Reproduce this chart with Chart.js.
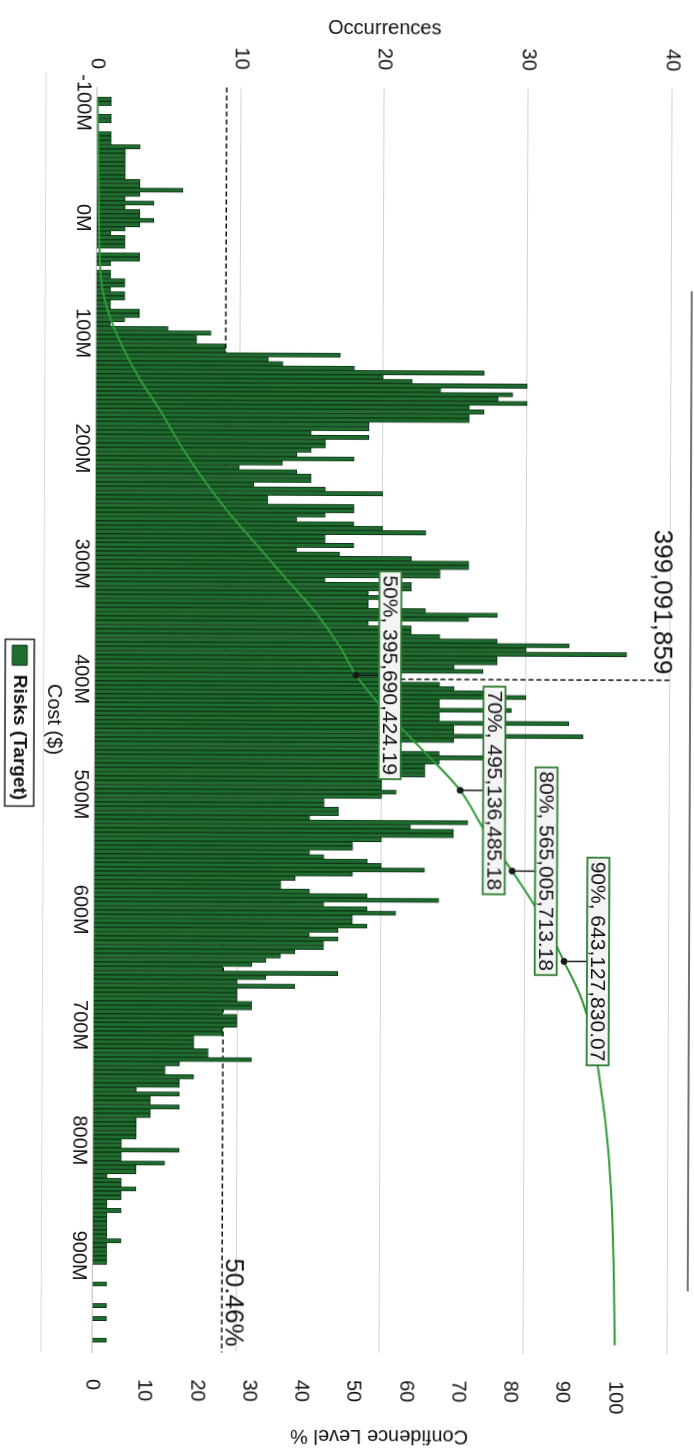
<!DOCTYPE html>
<html>
<head>
<meta charset="utf-8">
<script src="https://cdn.jsdelivr.net/npm/chart.js@4.4.1/dist/chart.umd.min.js"></script>
<style>
  html, body { margin: 0; padding: 0; background: #fff; }
  body { width: 694px; height: 1448px; overflow: hidden; position: relative; }
  #page { position: absolute; left: 0; top: 0; width: 694px; height: 1448px;
          transform: rotate(0.23deg); transform-origin: 347px 724px; }
  /* the chart is laid out landscape and turned a quarter turn clockwise */
  #frame { position: absolute; left: 0; top: 0; width: 1448px; height: 694px;
           transform-origin: 0 0; transform: translateX(694px) rotate(90deg); }
  canvas { display: block; }
</style>
</head>
<body>
<div id="page"><div id="frame"><canvas id="c" width="1448" height="694"></canvas></div></div>
<script>
// ---- histogram bins (cost in $M) ----
const binStartM = -103;     // centre of the first bin
const binWidthM = 3.75;     // width of each bin
const occurrences = [
  1,1,0,0,1,1,0,0,1,1,
  1,3,2,2,2,2,2,2,2,3,
  3,6,3,2,4,2,3,3,4,3,
  2,1,2,2,2,0,3,3,1,0,
  1,1,2,2,1,2,2,1,1,3,
  3,2,1,5,8,7,7,9,9,17,
  12,13,18,27,20,22,30,24,29,28,
  30,26,27,26,26,19,19,15,19,16,
  16,15,14,18,13,10,14,15,15,11,
  16,20,12,12,18,18,16,14,18,20,
  23,16,16,18,14,17,22,26,26,24,
  24,16,22,22,19,20,19,19,23,28,
  26,19,22,22,24,28,33,30,37,28,
  28,25,27,21,21,24,25,27,30,24,
  24,29,24,24,33,25,25,34,25,21,
  21,24,27,24,23,23,23,20,20,20,
  21,20,16,16,17,17,15,26,22,25,
  25,20,18,18,15,16,19,20,23,18,
  14,13,13,15,19,24,16,19,21,18,
  18,19,17,15,17,16,16,14,13,12,
  11,9,17,12,10,14,10,10,10,11,
  11,9,10,10,10,9,9,7,7,7,
  8,8,11,6,5,5,7,6,6,3,
  6,4,4,6,4,4,3,3,3,3,
  3,2,2,6,2,2,5,3,3,1,
  2,2,3,2,2,1,1,2,1,1,
  1,1,1,1,2,1,1,1,1,1,
  0,0,0,0,1,0,0,0,0,1,
  0,0,1,0,0,0,0,1
];

// ---- cumulative confidence curve ----
const cumCostM = [-103, -51, 1, 53, 81.5, 111, 139.6, 168, 198, 226, 255, 284.5, 313, 341.7, 371,
                  395.69, 426, 454.5, 495.14, 532.5, 565.01, 602, 643.13, 677, 721, 764, 807, 851, 903, 976];
const cumLevel  = [0.1, 0.3, 0.5, 0.9, 2.3, 5.0, 8.4, 12.5, 16.4, 20.6, 25.5, 31.2, 36.7, 42.3, 46.9,
                   50, 55.5, 61.5, 70, 75, 80, 85.3, 90, 93.5, 96, 97.5, 98.6, 99.3, 99.7, 100];

// ---- confidence markers ----
const markerLevels = [50, 70, 80, 90];
const markerCosts  = [395690424.19, 495136485.18, 565005713.18, 643127830.07];

// ---- deterministic reference ----
const detCost = 399091859;
const detLabel = '399,091,859';
const detLineLevel = 24.8;      // position of the dashed level line on the confidence axis
const detLineLabel = '50.46%';

// ---- axes ----
const costMinM = -113.5, costMaxM = 983.5;
const costTicksM = [-100, 0, 100, 200, 300, 400, 500, 600, 700, 800, 900];
const occTicks = [0, 10, 20, 30, 40];
const confTicks = [0, 10, 20, 30, 40, 50, 60, 70, 80, 90, 100];

const FONT = '"Liberation Sans", Arial, Helvetica, sans-serif';
Chart.defaults.font.family = FONT;
Chart.defaults.color = '#111';

const barData = occurrences.map((v, i) => ({ x: (binStartM + i * binWidthM) * 1e6, y: v }));
const curveData = cumCostM.map((c, i) => ({ x: c * 1e6, y: cumLevel[i] }));
const markerData = markerCosts.map((c, i) => ({ x: c, y: markerLevels[i] }));

function fmtMoney(v) {
  const [ip, fp] = v.toFixed(2).split('.');
  return ip.replace(/\B(?=(\d{3})+(?!\d))/g, ',') + '.' + fp;
}

// fixed scale sizes, no extra edge padding from tick labels
function fixSize(prop, size) {
  return s => {
    s[prop] = size;
    s.paddingTop = 0; s.paddingBottom = 0; s.paddingLeft = 0; s.paddingRight = 0;
  };
}

const refLines = {
  id: 'refLines',
  beforeDatasetsDraw(chart) {
    const { ctx, chartArea: a, scales: { x, y2 } } = chart;
    const yl = y2.getPixelForValue(detLineLevel);
    const xd = x.getPixelForValue(detCost);
    ctx.save();
    ctx.strokeStyle = '#111';
    ctx.lineWidth = 1.5;
    ctx.setLineDash([5, 3]);
    ctx.beginPath(); ctx.moveTo(a.left, yl); ctx.lineTo(a.right, yl); ctx.stroke();
    ctx.beginPath(); ctx.moveTo(xd, yl); ctx.lineTo(xd, a.top); ctx.stroke();
    ctx.restore();
  }
};

const overlay = {
  id: 'overlay',
  afterDatasetsDraw(chart) {
    const { ctx, chartArea: a, scales: { x, y2 } } = chart;
    ctx.save();
    // reference value texts
    ctx.fillStyle = '#111';
    ctx.font = '26px ' + FONT;
    ctx.textAlign = 'right';
    ctx.textBaseline = 'top';
    ctx.fillText(detLabel, x.getPixelForValue(detCost) - 6, a.top - 5);
    ctx.textBaseline = 'alphabetic';
    ctx.fillText(detLineLabel, a.right - 6, y2.getPixelForValue(detLineLevel) - 4);

    // confidence marker call-outs
    ctx.font = '21px ' + FONT;
    markerLevels.forEach((lvl, i) => {
      const px = x.getPixelForValue(markerCosts[i]);
      const py = y2.getPixelForValue(lvl);
      const text = lvl + '%, ' + fmtMoney(markerCosts[i]);
      const w = ctx.measureText(text).width + 8;
      const h = 22;
      const bottom = py - 23;
      ctx.setLineDash([]);
      ctx.strokeStyle = '#1a1a1a';
      ctx.lineWidth = 1.5;
      ctx.beginPath(); ctx.moveTo(px, py); ctx.lineTo(px, bottom); ctx.stroke();
      ctx.fillStyle = '#f4f4f4';
      ctx.fillRect(px - w / 2, bottom - h, w, h);
      ctx.strokeStyle = '#2f7d32';
      ctx.lineWidth = 1.8;
      ctx.strokeRect(px - w / 2, bottom - h, w, h);
      ctx.fillStyle = '#111';
      ctx.textAlign = 'center';
      ctx.textBaseline = 'middle';
      ctx.fillText(text, px, bottom - h / 2 + 1);
    });
    ctx.restore();
  },
  afterDraw(chart) {
    const { ctx, chartArea: a, legend } = chart;
    ctx.save();
    // legend frame
    const hb = legend.legendHitBoxes[0];
    if (hb) {
      ctx.strokeStyle = '#222';
      ctx.lineWidth = 1.5;
      ctx.strokeRect(hb.left - 6, hb.top - 5, hb.width + 12, hb.height + 10);
    }
    // page frame lines
    ctx.strokeStyle = '#dadada';
    ctx.lineWidth = 1;
    ctx.beginPath(); ctx.moveTo(a.left - 15, a.bottom + 51); ctx.lineTo(a.right, a.bottom + 51); ctx.stroke();
    ctx.strokeStyle = '#444';
    ctx.lineWidth = 1.5;
    ctx.beginPath(); ctx.moveTo(290, 4); ctx.lineTo(1290, 4); ctx.stroke();
    ctx.restore();
  }
};

new Chart(document.getElementById('c'), {
  type: 'bar',
  data: {
    datasets: [
      {
        label: 'Risks (Target)',
        data: barData,
        backgroundColor: '#1f6d2d',
        borderColor: '#10331a',
        borderWidth: 1,
        barPercentage: 1,
        categoryPercentage: 1,
        yAxisID: 'y',
        order: 2
      },
      {
        type: 'line',
        label: 'Confidence',
        data: curveData,
        borderColor: '#2f9a3a',
        borderWidth: 2,
        pointRadius: 0,
        cubicInterpolationMode: 'monotone',
        yAxisID: 'y2',
        order: 1
      },
      {
        type: 'line',
        label: 'Markers',
        data: markerData,
        showLine: false,
        pointRadius: 3,
        pointBackgroundColor: '#1a1a1a',
        pointBorderColor: '#1a1a1a',
        yAxisID: 'y2',
        order: 0
      }
    ]
  },
  options: {
    responsive: false,
    devicePixelRatio: 1,
    animation: false,
    events: [],
    layout: { padding: { top: 24.5, left: 0, right: 0, bottom: 0 } },
    plugins: {
      tooltip: { enabled: false },
      legend: {
        position: 'bottom',
        labels: {
          boxWidth: 20, boxHeight: 15, padding: 10,
          font: { size: 19, weight: 'bold' }, color: '#111',
          filter: item => item.datasetIndex === 0
        }
      }
    },
    scales: {
      x: {
        type: 'linear',
        offset: false,
        min: costMinM * 1e6, max: costMaxM * 1e6,
        afterBuildTicks: s => { s.ticks = costTicksM.map(v => ({ value: v * 1e6 })); },
        ticks: { callback: v => Math.round(v / 1e6) + 'M', font: { size: 20 }, color: '#111',
                 padding: 2, maxRotation: 0, autoSkip: false },
        grid: { offset: false, drawOnChartArea: false, drawTicks: false },
        border: { color: '#bbbbbb' },
        title: { display: true, text: 'Cost ($)', font: { size: 20 }, color: '#111', padding: { top: 0, bottom: 3 } },
        afterFit: fixSize('height', 55.5)
      },
      y: {
        position: 'left',
        min: 0, max: 40,
        afterBuildTicks: s => { s.ticks = occTicks.map(v => ({ value: v })); },
        ticks: { font: { size: 20 }, color: '#111', padding: 18 },
        grid: { color: '#d2d2d2', drawTicks: false },
        border: { display: false },
        title: { display: true, text: 'Occurrences', font: { size: 20 }, color: '#111', padding: { top: 16, bottom: 0 } },
        afterFit: fixSize('width', 88)
      },
      y2: {
        position: 'right',
        min: 0, max: 110,
        afterBuildTicks: s => { s.ticks = confTicks.map(v => ({ value: v })); },
        ticks: { font: { size: 20 }, color: '#111', padding: 27 },
        grid: { drawOnChartArea: false, drawTicks: false },
        border: { display: false },
        title: { display: true, text: 'Confidence Level %', font: { size: 20 }, color: '#111', padding: { top: 0, bottom: 0 } },
        afterFit: fixSize('width', 95)
      }
    }
  },
  plugins: [refLines, overlay]
});
</script>
</body>
</html>
